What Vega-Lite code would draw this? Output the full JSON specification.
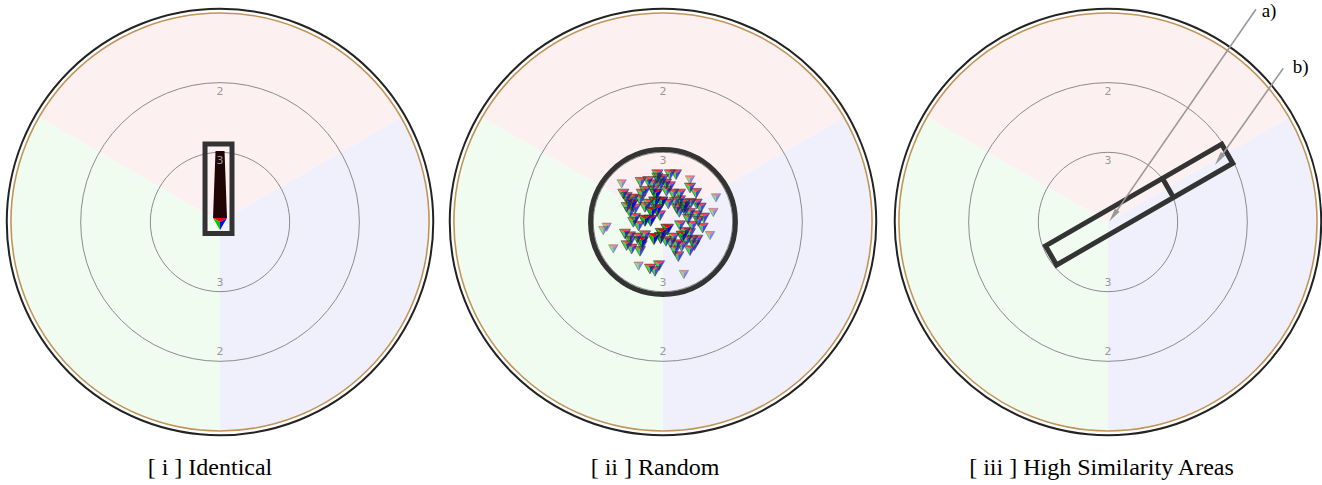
{
  "$schema": "https://vega.github.io/schema/vega-lite/v6.json",
  "padding": 0,
  "background": "white",
  "spacing": 0,
  "bounds": "flush",
  "config": {"view": {"stroke": null}, "axis": {"disable": true}, "legend": {"disable": true}, "concat": {"spacing": 0}},
  "datasets": {
    "sectors": [
      {"sector": "R", "t0": -60, "t1": 60, "score": 1, "x": 0, "y": 0},
      {"sector": "B", "t0": 60, "t1": 180, "score": 1, "x": 0, "y": 0},
      {"sector": "G", "t0": 180, "t1": 300, "score": 1, "x": 0, "y": 0}
    ],
    "rings": [{"score": 3, "x": 0, "y": 0}, {"score": 2, "x": 0, "y": 0}],
    "gold": [{"score": 1, "x": 0, "y": 0}],
    "edge": [{"score": 0.94, "x": 0, "y": 0}],
    "ringlabels": [
      {"t": "2", "x": 0, "y": 1.87}, {"t": "3", "x": 0, "y": 0.87},
      {"t": "3", "x": 0, "y": -0.87}, {"t": "2", "x": 0, "y": -1.87}
    ],
    "arrows": [
      {"arrow": "a", "i": 0, "x": 2.124, "y": 3.053}, {"arrow": "a", "i": 1, "x": 0.076, "y": 0.088},
      {"arrow": "b", "i": 0, "x": 2.516, "y": 2.206}, {"arrow": "b", "i": 1, "x": 1.593, "y": 0.900}
    ],
    "tri": [
      {"x": -0.081, "y": 0.689, "w": 2}, {"x": -0.081, "y": 0.641, "w": 2}, {"x": -0.053, "y": 0.593, "w": 2},
      {"x": 0.100, "y": 0.689, "w": 2}, {"x": 0.187, "y": 0.689, "w": 2}, {"x": 0.043, "y": 0.555, "w": 2},
      {"x": -0.043, "y": 0.531, "w": 2}, {"x": 0.100, "y": 0.517, "w": 2}, {"x": -0.593, "y": 0.555, "w": 1},
      {"x": -0.321, "y": 0.579, "w": 2}, {"x": -0.211, "y": 0.593, "w": 2}, {"x": -0.148, "y": 0.545, "w": 2},
      {"x": 0.388, "y": 0.612, "w": 1}, {"x": 0.388, "y": 0.498, "w": 2}, {"x": 0.474, "y": 0.421, "w": 2},
      {"x": 0.761, "y": 0.354, "w": 1}, {"x": 0.722, "y": 0.144, "w": 1}, {"x": -0.522, "y": 0.364, "w": 2},
      {"x": -0.426, "y": 0.340, "w": 2}, {"x": -0.306, "y": 0.411, "w": 2}, {"x": -0.258, "y": 0.450, "w": 2},
      {"x": -0.330, "y": 0.325, "w": 2}, {"x": -0.115, "y": 0.292, "w": 3}, {"x": -0.019, "y": 0.292, "w": 3},
      {"x": 0.077, "y": 0.268, "w": 2}, {"x": 0.172, "y": 0.292, "w": 2}, {"x": 0.244, "y": 0.316, "w": 2},
      {"x": 0.316, "y": 0.268, "w": 2}, {"x": 0.397, "y": 0.278, "w": 2}, {"x": 0.483, "y": 0.268, "w": 2},
      {"x": 0.541, "y": 0.211, "w": 2}, {"x": -0.522, "y": 0.220, "w": 2}, {"x": -0.474, "y": 0.148, "w": 2},
      {"x": -0.402, "y": 0.196, "w": 2}, {"x": -0.258, "y": 0.220, "w": 2}, {"x": -0.163, "y": 0.148, "w": 3},
      {"x": -0.081, "y": 0.182, "w": 3}, {"x": -0.043, "y": 0.100, "w": 2}, {"x": 0.234, "y": 0.148, "w": 2},
      {"x": 0.316, "y": 0.172, "w": 2}, {"x": 0.388, "y": 0.134, "w": 2}, {"x": 0.483, "y": 0.100, "w": 2},
      {"x": 0.589, "y": 0.067, "w": 2}, {"x": -0.426, "y": 0.005, "w": 2}, {"x": -0.258, "y": 0.029, "w": 3},
      {"x": -0.177, "y": 0.029, "w": 3}, {"x": 0.060, "y": -0.100, "w": 3}, {"x": -0.020, "y": -0.160, "w": 3},
      {"x": 0.244, "y": -0.043, "w": 2}, {"x": 0.316, "y": -0.139, "w": 2}, {"x": 0.388, "y": -0.153, "w": 2},
      {"x": 0.507, "y": 0.019, "w": 2}, {"x": 0.569, "y": -0.077, "w": 2}, {"x": 0.675, "y": -0.187, "w": 1},
      {"x": -0.808, "y": -0.067, "w": 1}, {"x": -0.857, "y": -0.115, "w": 1}, {"x": -0.545, "y": -0.163, "w": 2},
      {"x": -0.474, "y": -0.201, "w": 2}, {"x": -0.368, "y": -0.220, "w": 2}, {"x": -0.258, "y": -0.187, "w": 2},
      {"x": -0.129, "y": -0.234, "w": 3}, {"x": -0.033, "y": -0.220, "w": 3}, {"x": 0.043, "y": -0.268, "w": 2},
      {"x": 0.110, "y": -0.292, "w": 2}, {"x": 0.196, "y": -0.316, "w": 2}, {"x": 0.268, "y": -0.344, "w": 2},
      {"x": 0.340, "y": -0.258, "w": 2}, {"x": 0.421, "y": -0.258, "w": 2}, {"x": 0.493, "y": -0.249, "w": 2},
      {"x": -0.713, "y": -0.378, "w": 1}, {"x": -0.522, "y": -0.330, "w": 2}, {"x": -0.450, "y": -0.378, "w": 2},
      {"x": -0.330, "y": -0.411, "w": 2}, {"x": -0.306, "y": -0.330, "w": 2}, {"x": 0.172, "y": -0.402, "w": 2},
      {"x": 0.220, "y": -0.488, "w": 2}, {"x": 0.388, "y": -0.402, "w": 2}, {"x": -0.350, "y": -0.625, "w": 1},
      {"x": -0.187, "y": -0.665, "w": 2}, {"x": -0.115, "y": -0.699, "w": 2}, {"x": -0.057, "y": -0.617, "w": 2},
      {"x": 0.300, "y": -0.746, "w": 1}, {"x": -0.569, "y": 0.411, "w": 2}, {"x": -0.211, "y": 0.268, "w": 2},
      {"x": 0.148, "y": 0.411, "w": 2}, {"x": 0.244, "y": 0.411, "w": 2}, {"x": -0.139, "y": 0.459, "w": 2},
      {"x": -0.500, "y": 0.300, "w": 2}, {"x": -0.450, "y": 0.250, "w": 3}, {"x": -0.400, "y": 0.060, "w": 2},
      {"x": -0.350, "y": -0.050, "w": 2}, {"x": -0.470, "y": -0.270, "w": 2}, {"x": 0.300, "y": 0.220, "w": 3},
      {"x": 0.360, "y": 0.050, "w": 2}, {"x": 0.420, "y": -0.050, "w": 2}, {"x": 0.280, "y": -0.200, "w": 3},
      {"x": 0.450, "y": -0.330, "w": 2}, {"x": 0.000, "y": 0.620, "w": 2}, {"x": 0.050, "y": 0.450, "w": 2},
      {"x": -0.100, "y": 0.400, "w": 3}, {"x": 0.200, "y": 0.200, "w": 2}, {"x": -0.300, "y": -0.280, "w": 3},
      {"x": 0.150, "y": -0.220, "w": 2}
    ]
  },
  "hconcat": [
    {
      "width": 441, "height": 485,
      "encoding": {
        "x": {"field": "x", "type": "quantitative", "scale": {"domain": [-3.158, 3.172]}},
        "y": {"field": "y", "type": "quantitative", "scale": {"domain": [-3.775, 3.186]}}
      },
      "layer": [
        {"data": {"name": "sectors"}, "mark": {"type": "arc"},
         "encoding": {
           "theta": {"field": "t0", "type": "quantitative", "stack": null, "scale": {"domain": [0, 360], "range": [0, 6.283185]}},
           "theta2": {"field": "t1"},
           "radius": {"field": "score", "type": "quantitative", "stack": null, "scale": {"type": "linear", "domain": [4, 1], "range": [0, 209]}},
           "color": {"field": "sector", "type": "nominal", "scale": {"domain": ["R", "G", "B"], "range": ["#fdf0f0", "#f0fcf0", "#f0f0fd"]}}
         }},
        {"data": {"name": "rings"}, "mark": {"type": "arc", "theta": 0, "theta2": 6.2832, "fillOpacity": 0, "stroke": "#8c8c8c", "strokeWidth": 1},
         "encoding": {"radius": {"field": "score", "type": "quantitative", "stack": null, "scale": {"type": "linear", "domain": [4, 1], "range": [0, 209]}}}},
        {"data": {"name": "gold"}, "mark": {"type": "arc", "theta": 0, "theta2": 6.2832, "fillOpacity": 0, "stroke": "#c0955a", "strokeWidth": 1.6},
         "encoding": {"radius": {"field": "score", "type": "quantitative", "stack": null, "scale": {"type": "linear", "domain": [4, 1], "range": [0, 209]}}}},
        {"data": {"name": "edge"}, "mark": {"type": "arc", "theta": 0, "theta2": 6.2832, "fillOpacity": 0, "stroke": "#222222", "strokeWidth": 2},
         "encoding": {"radius": {"field": "score", "type": "quantitative", "stack": null, "scale": {"type": "linear", "domain": [4, 1], "range": [0, 209]}}}},
        {"data": {"values": [{"x": 0, "y": 0.452}]},
         "mark": {"type": "point", "shape": "M-0.114,-1L0.114,-1L0.177,0.696L-0.177,0.696Z", "size": 6241, "filled": true, "color": "#1f0505", "opacity": 1}},
        {"data": {"values": [{"x": 0, "y": 0.452}]},
         "mark": {"type": "point", "shape": "M-0.177,0.696L0.177,0.696L0,0.797Z", "size": 6241, "filled": true, "color": "#ff0000", "opacity": 1}},
        {"data": {"values": [{"x": 0, "y": 0.452}]},
         "mark": {"type": "point", "shape": "M-0.177,0.696L0,0.797L0,1Z", "size": 6241, "filled": true, "color": "#00c800", "opacity": 1}},
        {"data": {"values": [{"x": 0, "y": 0.452}]},
         "mark": {"type": "point", "shape": "M0.177,0.696L0,0.797L0,1Z", "size": 6241, "filled": true, "color": "#0000ff", "opacity": 1}},
        {"data": {"values": [{"x": -0.215, "x2": 0.172, "y": 1.12, "y2": -0.165}]},
         "mark": {"type": "rect", "filled": false, "color": "#333333", "strokeWidth": 5},
         "encoding": {"x2": {"field": "x2"}, "y2": {"field": "y2"}}},
        {"data": {"name": "ringlabels"}, "mark": {"type": "text", "font": "DejaVu Sans", "fontSize": 11, "color": "#999999", "baseline": "middle", "align": "center"},
         "encoding": {"text": {"field": "t"}}},
        {"data": {"values": [{"label": "[ i ] Identical", "x": -0.144, "y": -3.631}]},
         "mark": {"type": "text", "font": "Liberation Serif", "fontSize": 24, "color": "#000000", "baseline": "alphabetic", "align": "center"},
         "encoding": {"text": {"field": "label"}}}
      ]
    },
    {
      "width": 443, "height": 485,
      "encoding": {
        "x": {"field": "x", "type": "quantitative", "scale": {"domain": [-3.186, 3.172]}},
        "y": {"field": "y", "type": "quantitative", "scale": {"domain": [-3.775, 3.186]}}
      },
      "layer": [
        {"data": {"name": "sectors"}, "mark": {"type": "arc"},
         "encoding": {
           "theta": {"field": "t0", "type": "quantitative", "stack": null, "scale": {"domain": [0, 360], "range": [0, 6.283185]}},
           "theta2": {"field": "t1"},
           "radius": {"field": "score", "type": "quantitative", "stack": null, "scale": {"type": "linear", "domain": [4, 1], "range": [0, 209]}},
           "color": {"field": "sector", "type": "nominal", "scale": {"domain": ["R", "G", "B"], "range": ["#fdf0f0", "#f0fcf0", "#f0f0fd"]}}
         }},
        {"data": {"name": "rings"}, "mark": {"type": "arc", "theta": 0, "theta2": 6.2832, "fillOpacity": 0, "stroke": "#8c8c8c", "strokeWidth": 1},
         "encoding": {"radius": {"field": "score", "type": "quantitative", "stack": null, "scale": {"type": "linear", "domain": [4, 1], "range": [0, 209]}}}},
        {"data": {"name": "gold"}, "mark": {"type": "arc", "theta": 0, "theta2": 6.2832, "fillOpacity": 0, "stroke": "#c0955a", "strokeWidth": 1.6},
         "encoding": {"radius": {"field": "score", "type": "quantitative", "stack": null, "scale": {"type": "linear", "domain": [4, 1], "range": [0, 209]}}}},
        {"data": {"name": "edge"}, "mark": {"type": "arc", "theta": 0, "theta2": 6.2832, "fillOpacity": 0, "stroke": "#222222", "strokeWidth": 2},
         "encoding": {"radius": {"field": "score", "type": "quantitative", "stack": null, "scale": {"type": "linear", "domain": [4, 1], "range": [0, 209]}}}},
        {"data": {"name": "ringlabels"}, "mark": {"type": "text", "font": "DejaVu Sans", "fontSize": 11, "color": "#999999", "baseline": "middle", "align": "center"},
         "encoding": {"text": {"field": "t"}}},
        {"data": {"values": [{"score": 2.96, "x": 0, "y": 0}]}, "mark": {"type": "arc", "theta": 0, "theta2": 6.2832, "fillOpacity": 0, "stroke": "#333333", "strokeWidth": 5},
         "encoding": {"radius": {"field": "score", "type": "quantitative", "stack": null, "scale": {"type": "linear", "domain": [4, 1], "range": [0, 209]}}}},
        {"data": {"name": "tri"},
         "mark": {"type": "point", "shape": "M-1,-0.75L1,-0.75L0,-0.167Z", "filled": true, "color": "#ff0000", "strokeWidth": 0},
         "encoding": {
           "size": {"field": "w", "type": "ordinal", "scale": {"domain": [1, 2, 3], "range": [90, 160, 260]}},
           "opacity": {"field": "w", "type": "ordinal", "scale": {"domain": [1, 2, 3], "range": [0.45, 1, 1]}}
         }},
        {"data": {"name": "tri"},
         "mark": {"type": "point", "shape": "M-1,-0.75L0,-0.167L0,1Z", "filled": true, "color": "#00c800", "strokeWidth": 0},
         "encoding": {
           "size": {"field": "w", "type": "ordinal", "scale": {"domain": [1, 2, 3], "range": [90, 160, 260]}},
           "opacity": {"field": "w", "type": "ordinal", "scale": {"domain": [1, 2, 3], "range": [0.45, 1, 1]}}
         }},
        {"data": {"name": "tri"},
         "mark": {"type": "point", "shape": "M1,-0.75L0,-0.167L0,1Z", "filled": true, "color": "#0000ff", "strokeWidth": 0},
         "encoding": {
           "size": {"field": "w", "type": "ordinal", "scale": {"domain": [1, 2, 3], "range": [90, 160, 260]}},
           "opacity": {"field": "w", "type": "ordinal", "scale": {"domain": [1, 2, 3], "range": [0.45, 1, 1]}}
         }},
        {"data": {"name": "tri"},
         "mark": {"type": "point", "shape": "M-1,-0.75L1,-0.75L0,1Z", "filled": false, "color": "#333333", "strokeWidth": 0.7},
         "encoding": {
           "size": {"field": "w", "type": "ordinal", "scale": {"domain": [1, 2, 3], "range": [90, 160, 260]}},
           "opacity": {"field": "w", "type": "ordinal", "scale": {"domain": [1, 2, 3], "range": [0.45, 1, 1]}}
         }},
        {"data": {"values": [{"label": "[ ii ] Random", "x": -0.115, "y": -3.631}]},
         "mark": {"type": "text", "font": "Liberation Serif", "fontSize": 24, "color": "#000000", "baseline": "alphabetic", "align": "center"},
         "encoding": {"text": {"field": "label"}}}
      ]
    },
    {
      "width": 438, "height": 485,
      "encoding": {
        "x": {"field": "x", "type": "quantitative", "scale": {"domain": [-3.215, 3.072]}},
        "y": {"field": "y", "type": "quantitative", "scale": {"domain": [-3.775, 3.186]}}
      },
      "layer": [
        {"data": {"name": "sectors"}, "mark": {"type": "arc"},
         "encoding": {
           "theta": {"field": "t0", "type": "quantitative", "stack": null, "scale": {"domain": [0, 360], "range": [0, 6.283185]}},
           "theta2": {"field": "t1"},
           "radius": {"field": "score", "type": "quantitative", "stack": null, "scale": {"type": "linear", "domain": [4, 1], "range": [0, 209]}},
           "color": {"field": "sector", "type": "nominal", "scale": {"domain": ["R", "G", "B"], "range": ["#fdf0f0", "#f0fcf0", "#f0f0fd"]}}
         }},
        {"data": {"name": "rings"}, "mark": {"type": "arc", "theta": 0, "theta2": 6.2832, "fillOpacity": 0, "stroke": "#8c8c8c", "strokeWidth": 1},
         "encoding": {"radius": {"field": "score", "type": "quantitative", "stack": null, "scale": {"type": "linear", "domain": [4, 1], "range": [0, 209]}}}},
        {"data": {"name": "gold"}, "mark": {"type": "arc", "theta": 0, "theta2": 6.2832, "fillOpacity": 0, "stroke": "#c0955a", "strokeWidth": 1.6},
         "encoding": {"radius": {"field": "score", "type": "quantitative", "stack": null, "scale": {"type": "linear", "domain": [4, 1], "range": [0, 209]}}}},
        {"data": {"name": "edge"}, "mark": {"type": "arc", "theta": 0, "theta2": 6.2832, "fillOpacity": 0, "stroke": "#222222", "strokeWidth": 2},
         "encoding": {"radius": {"field": "score", "type": "quantitative", "stack": null, "scale": {"type": "linear", "domain": [4, 1], "range": [0, 209]}}}},
        {"data": {"name": "ringlabels"}, "mark": {"type": "text", "font": "DejaVu Sans", "fontSize": 11, "color": "#999999", "baseline": "middle", "align": "center"},
         "encoding": {"text": {"field": "t"}}},
        {"data": {"values": [
            {"i": 0, "x": -0.896, "y": -0.343}, {"i": 1, "x": -0.738, "y": -0.617},
            {"i": 2, "x": 1.791, "y": 0.843}, {"i": 3, "x": 1.633, "y": 1.117},
            {"i": 4, "x": -0.896, "y": -0.343}]},
         "mark": {"type": "line", "color": "#333333", "strokeWidth": 5, "strokeJoin": "miter", "strokeCap": "square"},
         "encoding": {"order": {"field": "i", "type": "quantitative"}}},
        {"data": {"values": [{"i": 0, "x": 0.782, "y": 0.626}, {"i": 1, "x": 0.940, "y": 0.352}]},
         "mark": {"type": "line", "color": "#333333", "strokeWidth": 5},
         "encoding": {"order": {"field": "i", "type": "quantitative"}}},
        {"data": {"name": "arrows"},
         "mark": {"type": "line", "color": "#999999", "strokeWidth": 1.6},
         "encoding": {"order": {"field": "i", "type": "quantitative"}, "detail": {"field": "arrow"}}},
        {"data": {"name": "arrows"}, "transform": [{"filter": "datum.i == 1"}],
         "mark": {"type": "point", "shape": "M0,-1L0.4,1L-0.4,1Z", "size": 196, "angle": 215, "filled": true, "color": "#999999", "opacity": 1}},
        {"data": {"values": [{"t": "a)", "x": 2.206, "y": 2.942}, {"t": "b)", "x": 2.651, "y": 2.139}]},
         "mark": {"type": "text", "font": "Liberation Serif", "fontSize": 19, "color": "#000000", "baseline": "alphabetic", "align": "left"},
         "encoding": {"text": {"field": "t"}}},
        {"data": {"values": [{"label": "[ iii ] High Similarity Areas", "x": -0.093, "y": -3.631}]},
         "mark": {"type": "text", "font": "Liberation Serif", "fontSize": 24, "color": "#000000", "baseline": "alphabetic", "align": "center"},
         "encoding": {"text": {"field": "label"}}}
      ]
    }
  ]
}
